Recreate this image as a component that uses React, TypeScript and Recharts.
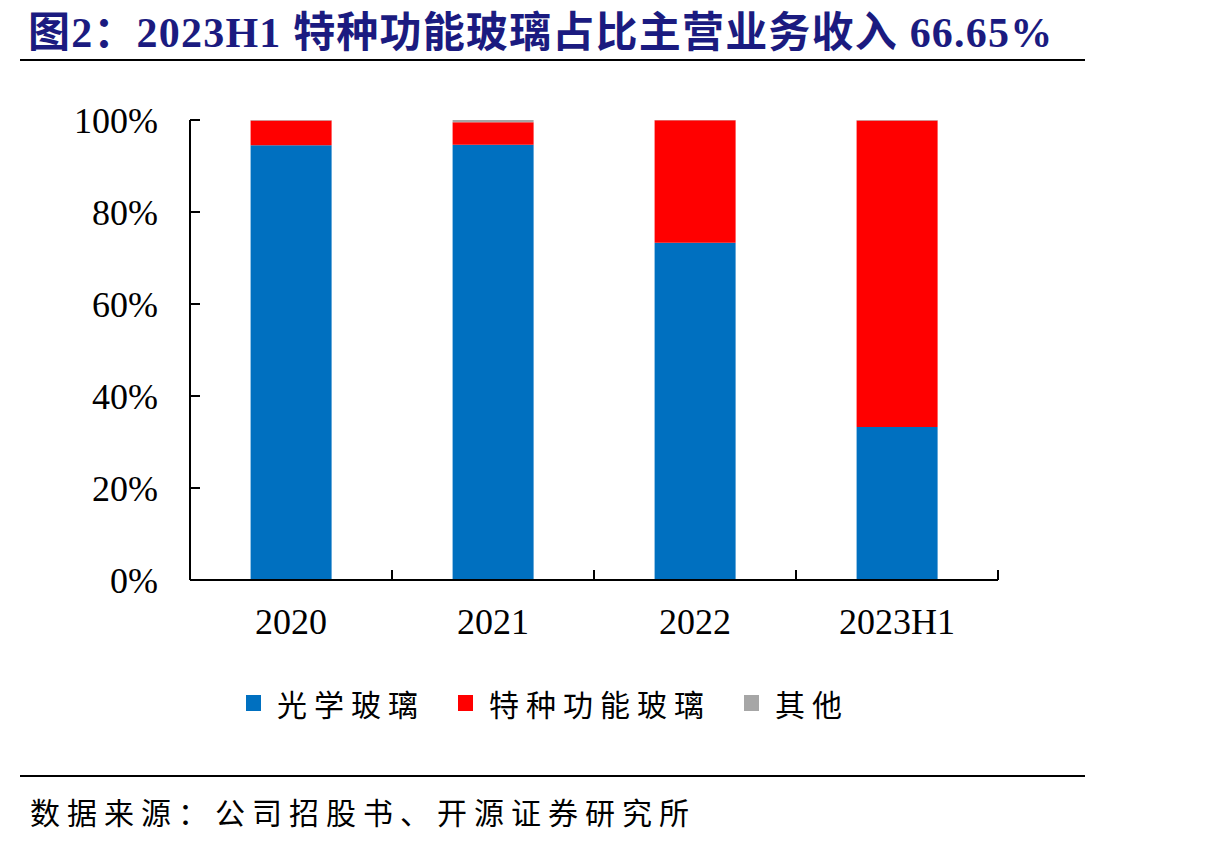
import React from 'react';
import { BarChart, Bar, XAxis, YAxis, Legend } from 'recharts';

const categories = ['2020', '2021', '2022', '2023H1'];
const opticalGlass = [94.5, 94.6, 73.3, 33.25];
const specialGlass = [5.4, 4.9, 26.65, 66.65];
const otherShare = [0.1, 0.5, 0.05, 0.1];
const yTicks = [0, 20, 40, 60, 80, 100];

const seriesNames = ['光学玻璃', '特种功能玻璃', '其他'];
const seriesColors = ['#0070C0', '#FF0000', '#A6A6A6'];

const data = categories.map((c, i) => ({
  name: c,
  optical: opticalGlass[i],
  special: specialGlass[i],
  other: otherShare[i],
}));

const BAND = 202;
const latin = '"Liberation Serif", "Times New Roman", serif';
const cjk = '"Noto Sans CJK SC", sans-serif';

const YTick = (props: any) => {
  const { x, y, payload } = props;
  const axisX = x + 32;
  return (
    <g>
      <line x1={axisX} y1={y} x2={axisX + 10} y2={y} stroke="#000" strokeWidth={2} />
      <text x={x} y={y} dy="0.355em" textAnchor="end" fontFamily={latin} fontSize={36} fill="#000">
        {payload.value}%
      </text>
    </g>
  );
};

const XTick = (props: any) => {
  const { x, y, payload, index } = props;
  const axisY = y - 28;
  return (
    <g>
      {index === 0 && (
        <line x1={x - BAND / 2} y1={axisY} x2={x - BAND / 2} y2={axisY - 10} stroke="#000" strokeWidth={2} />
      )}
      <line x1={x + BAND / 2} y1={axisY} x2={x + BAND / 2} y2={axisY - 10} stroke="#000" strokeWidth={2} />
      <text x={x} y={y} dy="0.71em" textAnchor="middle" fontFamily={latin} fontSize={36} fill="#000">
        {payload.value}
      </text>
    </g>
  );
};

const LegendContent = () => (
  <div style={{ display: 'flex', alignItems: 'center', paddingLeft: 246 }}>
    {seriesNames.map((n, i) => (
      <div key={n} style={{ display: 'flex', alignItems: 'center', marginRight: 33 }}>
        <div style={{ width: 15, height: 16, background: seriesColors[i], marginRight: 16 }} />
        <span style={{ fontFamily: cjk, fontSize: 30, letterSpacing: 7, color: '#000' }}>{n}</span>
      </div>
    ))}
  </div>
);

export default function App() {
  return (
    <div style={{ position: 'absolute', left: 0, top: 0, width: 1210, height: 843, background: '#fff' }}>
      <div
        style={{
          position: 'absolute',
          left: 28,
          top: -2,
          fontFamily: `${latin}, ${cjk}`,
          fontWeight: 'bold',
          fontSize: 42,
          letterSpacing: 1.2,
          color: '#1B1B80',
          whiteSpace: 'nowrap',
        }}
      >
        图2：2023H1 特种功能玻璃占比主营业务收入 66.65%
      </div>
      <div style={{ position: 'absolute', left: 20, top: 59, width: 1065, height: 2, background: '#000' }} />

      <BarChart
        width={1210}
        height={843}
        data={data}
        margin={{ top: 120, left: 0, right: 212, bottom: 203 }}
        barCategoryGap="30%"
      >
        <XAxis
          dataKey="name"
          height={60}
          tickSize={0}
          tickMargin={28}
          tick={<XTick />}
          axisLine={{ stroke: '#000', strokeWidth: 2 }}
          interval={0}
        />
        <YAxis
          width={190}
          domain={[0, 100]}
          ticks={yTicks}
          tickSize={0}
          tickMargin={32}
          tick={<YTick />}
          axisLine={{ stroke: '#000', strokeWidth: 2 }}
          interval={0}
        />
        <Legend
          verticalAlign="middle"
          align="center"
          layout="horizontal"
          content={<LegendContent />}
          wrapperStyle={{ top: 681, left: 0, width: 1210 }}
        />
        <Bar dataKey="optical" name={seriesNames[0]} stackId="a" fill={seriesColors[0]} isAnimationActive={false} />
        <Bar dataKey="special" name={seriesNames[1]} stackId="a" fill={seriesColors[1]} isAnimationActive={false} />
        <Bar dataKey="other" name={seriesNames[2]} stackId="a" fill={seriesColors[2]} isAnimationActive={false} />
      </BarChart>

      <div style={{ position: 'absolute', left: 20, top: 775, width: 1065, height: 2, background: '#000' }} />
      <div
        style={{
          position: 'absolute',
          left: 30,
          top: 789,
          fontFamily: cjk,
          fontSize: 30,
          letterSpacing: 7,
          color: '#000',
          whiteSpace: 'nowrap',
        }}
      >
        数据来源：公司招股书、开源证券研究所
      </div>
    </div>
  );
}
